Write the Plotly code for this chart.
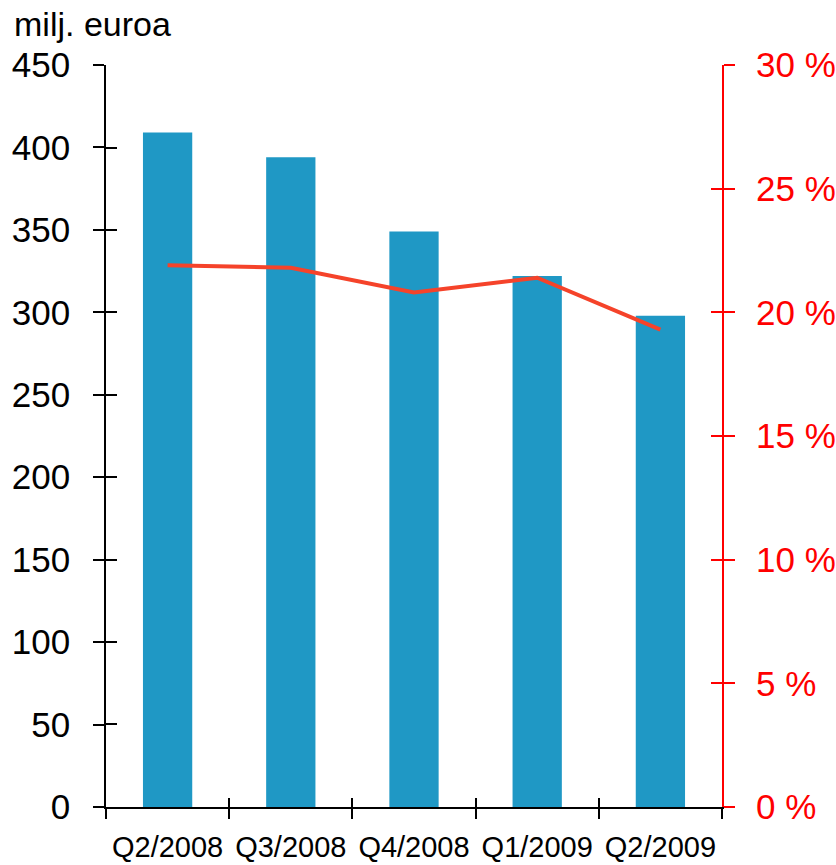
import plotly.graph_objects as go

categories = ["Q2/2008", "Q3/2008", "Q4/2008", "Q1/2009", "Q2/2009"]
bar_values = [409, 394, 349, 322, 298]
pct_values = [21.9, 21.8, 20.8, 21.4, 19.3]
left_ticks = [0, 50, 100, 150, 200, 250, 300, 350, 400, 450]
right_ticks = [0, 5, 10, 15, 20, 25, 30]
right_labels = [f"{v} %" for v in right_ticks]

FONT = "Liberation Sans, Arial, sans-serif"

fig = go.Figure()
fig.add_trace(go.Bar(x=categories, y=bar_values, marker=dict(color="#1f98c5", line=dict(width=0)),
                     showlegend=False, hoverinfo="skip"))
fig.add_trace(go.Scatter(x=categories, y=pct_values, yaxis="y2", mode="lines",
                         line=dict(color="#f5432a", width=4), showlegend=False))
# invisible helper traces so the overlay (inside-tick) axes get drawn -> crossing ticks
fig.add_trace(go.Scatter(x=categories, y=bar_values, xaxis="x2", yaxis="y3", mode="markers",
                         marker=dict(opacity=0), showlegend=False, hoverinfo="skip"))
fig.add_trace(go.Scatter(x=categories, y=pct_values, xaxis="x2", yaxis="y4", mode="markers",
                         marker=dict(opacity=0), showlegend=False, hoverinfo="skip"))

fig.update_layout(
    width=836, height=865,
    margin=dict(l=106, r=114, t=65, b=58),
    paper_bgcolor="white", plot_bgcolor="white",
    bargap=0.6,
    font=dict(family=FONT, color="black"),
    xaxis=dict(type="category", categoryorder="array", categoryarray=categories,
               range=[-0.5, 4.5], tickson="boundaries", ticks="outside", ticklen=10,
               tickwidth=1.5, tickcolor="black", showline=True, linecolor="black", linewidth=1.5,
               showgrid=False, zeroline=False, tickfont=dict(size=29, family=FONT),
               ticklabelstandoff=13, automargin=False),
    xaxis2=dict(type="category", categoryorder="array", categoryarray=categories,
                range=[-0.5, 4.5], tickson="boundaries", ticks="inside", ticklen=9,
                tickwidth=1.5, tickcolor="black", showline=False, showgrid=False,
                zeroline=False, showticklabels=False, overlaying="x", anchor="y3",
                side="bottom", automargin=False),
    yaxis=dict(range=[0, 450], tickvals=left_ticks, ticks="outside", ticklen=11, tickwidth=1.5,
               tickcolor="black", showline=True, linecolor="black", linewidth=1.5,
               showgrid=False, zeroline=False, tickfont=dict(size=35, family=FONT),
               ticklabelstandoff=16, automargin=False),
    yaxis2=dict(range=[0, 30], tickvals=right_ticks, ticktext=right_labels, side="right",
                overlaying="y", anchor="x", ticks="outside", ticklen=11, tickwidth=1.5,
                tickcolor="#ff0000", showline=True, linecolor="#ff0000", linewidth=2,
                showgrid=False, zeroline=False,
                tickfont=dict(size=35, family=FONT, color="#ff0000"), ticklabelstandoff=14,
                automargin=False),
    yaxis3=dict(range=[-0.1, 450.1], tickvals=left_ticks, ticks="inside", ticklen=11, tickwidth=1.5,
                tickcolor="black", showline=False, showgrid=False, zeroline=False,
                showticklabels=False, overlaying="y", anchor="x2", side="left", automargin=False),
    yaxis4=dict(range=[-0.007, 30.007], tickvals=right_ticks, ticks="inside", ticklen=11, tickwidth=1.5,
                tickcolor="#ff0000", showline=False, showgrid=False, zeroline=False,
                showticklabels=False, overlaying="y", anchor="x2", side="right", automargin=False),
    annotations=[dict(text="milj. euroa", xref="paper", yref="paper", x=-0.152, y=1.0,
                      xanchor="left", yanchor="bottom", yshift=20, showarrow=False,
                      font=dict(size=34, family=FONT, color="black"))],
)

fig.write_html("out.html", config={"displayModeBar": False},
               post_script="document.body.style.margin='0';")
